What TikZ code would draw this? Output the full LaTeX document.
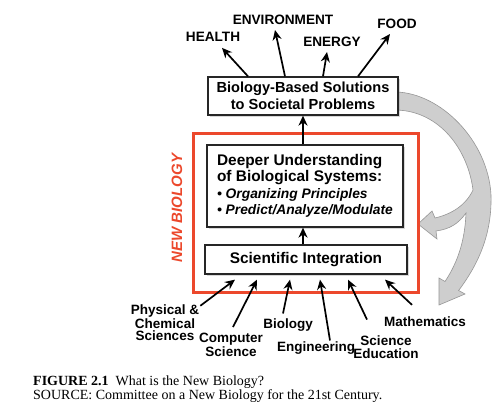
\documentclass[tikz,border=0pt]{standalone}
\usepackage{fontspec}
\setmainfont{Liberation Serif}
\setsansfont{Liberation Sans}
\usetikzlibrary{calc, positioning, arrows.meta, shadows}
\definecolor{nbRed}{RGB}{236, 72, 44}
\definecolor{loopFill}{RGB}{206, 206, 206}
\definecolor{loopLine}{RGB}{150, 150, 150}

\begin{document}
\begin{tikzpicture}[x=1pt, y=-1pt, font=\sffamily\bfseries,
  box/.style={draw=black!85, line width=1.3pt, fill=white, inner sep=0pt,
    drop shadow={shadow xshift=1.5pt, shadow yshift=-1.5pt, opacity=0.3}},
  arr/.style={line width=1.7pt, -{Stealth[length=10pt, width=9pt]}},
  goal/.style={font=\sffamily\bfseries\fontsize{13.6}{15}\selectfont, inner sep=1pt},
  field/.style={font=\sffamily\bfseries\fontsize{13.5}{12.5}\selectfont, align=center, inner sep=1pt}]
  \useasboundingbox (0,0) rectangle (492,415);
  \fill[white] (0,0) rectangle (492,415);

  % Grey feedback loop, split in two heads
  \filldraw[fill=loopFill, draw=loopLine, line width=0.6pt]
    (396,92) .. controls (440,93) and (488,140) .. (491,195)
    .. controls (492,232) and (480,262) .. (458.6,290.5)
    -- (465,294) -- (439,305) -- (439,278) -- (445,281.5)
    .. controls (458,262) and (465,240) .. (466,213)
    .. controls (458,224) and (450,229) .. (436,231)
    -- (437,239) -- (418,224) -- (432,211) -- (435,218)
    .. controls (452,214) and (466,205) .. (473,190)
    .. controls (468,150) and (440,111) .. (396,110) -- cycle;

  % New biology frame
  \node[draw=nbRed, line width=3pt, minimum width=225, minimum height=159] (nb) at (305.5,212.5) {};
  \node[rotate=90, text=nbRed, font=\sffamily\bfseries\itshape\fontsize{15}{15}\selectfont] (nblabel) at (177,208) {NEW BIOLOGY};

  % Boxes
  \node[box, align=center, minimum width=190, minimum height=38,
    font=\sffamily\bfseries\fontsize{14.6}{16.5}\selectfont] (sol) at (303,96)
    {Biology-Based Solutions\\to Societal Problems};
  \node[box, align=left, minimum width=196, minimum height=82,
    font=\sffamily\bfseries\fontsize{15.4}{16.5}\selectfont] (deep) at (305,186)
    {Deeper Understanding\\of Biological Systems:\\
     {\itshape\fontsize{13.8}{16.5}\selectfont\textbullet\ Organizing Principles}\\
     {\itshape\fontsize{13.8}{16.5}\selectfont\textbullet\ Predict/Analyze/Modulate}};
  \node[box, minimum width=202, minimum height=29,
    font=\sffamily\bfseries\fontsize{15.4}{16.5}\selectfont] (sci) at (306,259.5) {Scientific Integration};

  \draw[arr] ([xshift=-3pt]sci.north) -- ([xshift=-3pt]sci.north |- deep.south);
  \draw[arr] ([xshift=-2pt]deep.north) -- ([xshift=-2pt]deep.north |- sol.south);

  % Societal goals
  \node[goal] (health) at (213,37) {HEALTH};
  \node[goal] (env) at (283,20) {ENVIRONMENT};
  \node[goal] (energy) at (332,42) {ENERGY};
  \node[goal] (food) at (397,24) {FOOD};

  \draw[arr] ([xshift=-55pt]sol.north) -- ([xshift=9pt, yshift=-5pt]health.south);
  \draw[arr] ([xshift=-18pt]sol.north) -- ([xshift=-8pt, yshift=-4pt]env.south);
  \draw[arr] ([xshift=20pt]sol.north) -- ([xshift=-5pt, yshift=-4pt]energy.south);
  \draw[arr] ([xshift=55pt]sol.north) -- ([xshift=-7pt, yshift=-4pt]food.south);

  % Contributing fields
  \node[field] (phys) at (165,323) {Physical \&\\Chemical\\Sciences};
  \node[field, font=\sffamily\bfseries\fontsize{13.5}{14}\selectfont] (comp) at (231,345) {Computer\\Science};
  \node[field] (bio) at (288,325) {Biology};
  \node[field] (eng) at (316,348) {Engineering};
  \node[field] (sced) at (386,347) {Science\\Education};
  \node[field] (math) at (425,322) {Mathematics};

  \draw[arr] ([yshift=-2pt]phys.north east) -- ([xshift=-71pt, yshift=-5pt]sci.south);
  \draw[arr] ([xshift=2pt, yshift=5pt]comp.north) -- ([xshift=-49pt, yshift=-5pt]sci.south);
  \draw[arr] ([xshift=-5pt, yshift=4pt]bio.north) -- ([xshift=-16pt, yshift=-5pt]sci.south);
  \draw[arr] ([xshift=14pt]eng.north) -- ([xshift=14pt, yshift=-5pt]sci.south);
  \draw[arr] ([xshift=-19pt, yshift=15pt]sced.north) -- ([xshift=42pt, yshift=-5pt]sci.south);
  \draw[arr] ([xshift=-13pt, yshift=11pt]math.north) -- ([xshift=79pt, yshift=-5pt]sci.south);

  % Caption
  \node[anchor=west, align=left, inner sep=0pt, font=\rmfamily\fontsize{14}{14}\selectfont] (caption) at (33,389)
    {\textbf{FIGURE 2.1}\ \ What is the New Biology?\\SOURCE: Committee on a New Biology for the 21st Century.};
\end{tikzpicture}
\end{document}
